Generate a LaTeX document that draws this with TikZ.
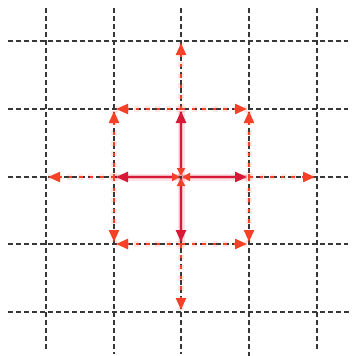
\documentclass[tikz,border=0pt]{standalone}
\usetikzlibrary{arrows.meta}
\definecolor{gridgray}{RGB}{55,55,55}
\definecolor{crim}{RGB}{215,25,55}
\definecolor{ored}{RGB}{245,65,40}
\tikzset{
  gridline/.style={gridgray, line width=1.2pt, dash pattern=on 4.5pt off 3.5pt},
  solidarr/.style={crim, line width=2.6pt, shorten <=1pt, shorten >=2pt,
     {Triangle[length=8pt,width=8pt,color=ored]}-{Triangle[length=12pt,width=10pt]},
     preaction={draw=crim, opacity=0.12, line width=7pt, -},
     preaction={draw=crim, opacity=0.2, line width=4.5pt, -}},
  dasharr/.style={ored, line width=2.2pt, dash pattern=on 3.5pt off 7pt, shorten >=2pt,
     -{Triangle[length=12pt,width=10pt]},
     preaction={draw=ored, opacity=0.12, line width=6pt, dash pattern=on 5pt off 5.5pt, -}},
}
\begin{document}
\begin{tikzpicture}[x=1pt,y=-1pt]
\useasboundingbox (0,0) rectangle (351,356);
\foreach \i/\x in {0/46,1/114,2/181,3/249,4/317}{
  \foreach \j/\y in {0/41,1/109,2/177,3/244,4/312}{
    \coordinate (g\i\j) at (\x,\y);
  }
}
\coordinate (vt0) at (46,8);   \coordinate (vb0) at (46,352);
\coordinate (vt1) at (114,8);  \coordinate (vb1) at (114,354);
\coordinate (vt2) at (181,8);  \coordinate (vb2) at (181,354);
\coordinate (vt3) at (249,8);  \coordinate (vb3) at (249,356);
\coordinate (vt4) at (317,8);  \coordinate (vb4) at (317,350);
\foreach \i in {0,...,4}{ \draw[gridline] (vt\i) -- (vb\i); }
\coordinate (hl0) at (8,41);  \coordinate (hr0) at (348,41);
\coordinate (hl1) at (8,109); \coordinate (hr1) at (348,109);
\coordinate (hl2) at (8,177); \coordinate (hr2) at (348,177);
\coordinate (hl3) at (8,244); \coordinate (hr3) at (348,244);
\coordinate (hl4) at (8,312); \coordinate (hr4) at (351,312);
\foreach \j in {0,...,4}{ \draw[gridline] (hl\j) -- (hr\j); }
% dashed arrows around the square
\draw[dasharr] (g21) -- (g11);
\draw[dasharr] (g21) -- (g31);
\draw[dasharr] (g12) -- (g11);
\draw[dasharr] (g12) -- (g13);
\draw[dasharr] (g32) -- (g31);
\draw[dasharr] (g32) -- (g33);
\draw[dasharr] (g23) -- (g13);
\draw[dasharr] (g23) -- (g33);
% dashed arrows outward
\draw[dasharr] (g12) -- (g02);
\draw[dasharr] (g32) -- (g42);
\draw[dasharr] (g21) -- (g20);
\draw[dasharr] (g23) -- (g24);
% solid arrows from center
\draw[solidarr] (g22) -- (g12);
\draw[solidarr] (g22) -- (g32);
\draw[solidarr] (g22) -- (g21);
\draw[solidarr] (g22) -- (g23);
\end{tikzpicture}
\end{document}
